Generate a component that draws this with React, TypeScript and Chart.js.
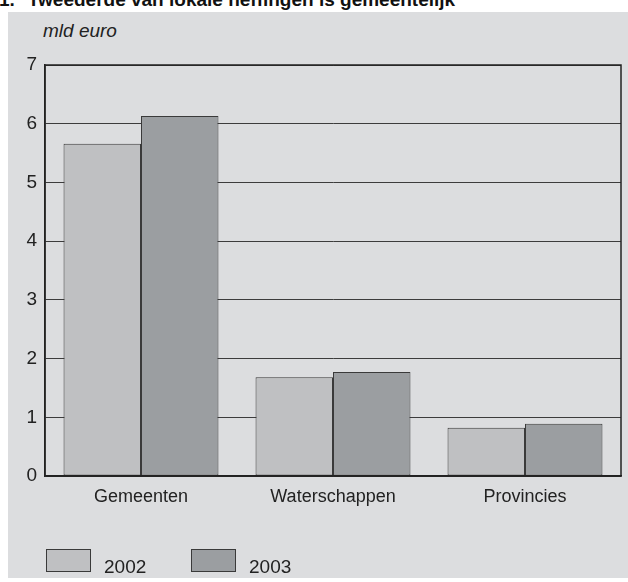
import React, { useEffect, useRef } from "react";
import { Chart, registerables } from "chart.js";

Chart.register(...registerables);

const categories = ["Gemeenten", "Waterschappen", "Provincies"];
const values2002 = [5.66, 1.68, 0.82];
const values2003 = [6.13, 1.77, 0.89];
const seriesLabels = ["2002", "2003"];
const yMin = 0;
const yMax = 7;
const yStep = 1;

const FONT = 'Arial, "Liberation Sans", Helvetica, sans-serif';
const PANEL = "#dcdddf";
const COLOR_2002 = "#bfc0c2";
const COLOR_2003 = "#9b9ea1";
const BAR_BORDER = "#3a3a3a";

const framePlugin = {
  id: "frame",
  afterDraw(chart: any) {
    const { ctx, chartArea } = chart;
    ctx.save();
    ctx.strokeStyle = "#222";
    ctx.lineWidth = 1.5;
    ctx.strokeRect(chartArea.left, chartArea.top, chartArea.right - chartArea.left, chartArea.bottom - chartArea.top);
    ctx.restore();
  },
};

export default function App() {
  const ref = useRef<HTMLCanvasElement | null>(null);

  useEffect(() => {
    if (!ref.current) return;
    const chart = new Chart(ref.current, {
      type: "bar",
      data: {
        labels: categories,
        datasets: [
          {
            label: seriesLabels[0],
            data: values2002,
            backgroundColor: COLOR_2002,
            borderColor: BAR_BORDER,
            borderWidth: 1,
            borderSkipped: false,
          },
          {
            label: seriesLabels[1],
            data: values2003,
            backgroundColor: COLOR_2003,
            borderColor: BAR_BORDER,
            borderWidth: 1,
            borderSkipped: false,
          },
        ],
      },
      options: {
        animation: false,
        responsive: false,
        maintainAspectRatio: false,
        devicePixelRatio: 1,
        datasets: { bar: { categoryPercentage: 0.807, barPercentage: 1 } },
        layout: { padding: { left: 0, top: 65, right: 7, bottom: 0 } },
        plugins: {
          legend: { display: false },
          title: { display: false },
          tooltip: { enabled: false },
        },
        scales: {
          x: {
            type: "category",
            grid: { display: false, drawTicks: false },
            border: { display: true, color: "#222", width: 1.5 },
            ticks: {
              padding: 10,
              color: "#222",
              font: { family: FONT, size: 18 },
              maxRotation: 0,
            },
            afterFit: (scale: any) => {
              scale.height = 106;
            },
          },
          y: {
            min: yMin,
            max: yMax,
            grid: { color: "#3c3c3c", lineWidth: 1, drawTicks: false },
            border: { display: true, color: "#222", width: 1.5 },
            ticks: {
              stepSize: yStep,
              padding: 8,
              color: "#222",
              font: { family: FONT, size: 19 },
            },
            afterFit: (scale: any) => {
              scale.width = 45;
            },
          },
        },
      },
      plugins: [framePlugin],
    });
    return () => chart.destroy();
  }, []);

  const legendItems = [
    { label: seriesLabels[0], color: COLOR_2002, left: 46 },
    { label: seriesLabels[1], color: COLOR_2003, left: 191 },
  ];

  return (
    <div style={{ position: "absolute", left: 0, top: 0, width: 628, height: 582, overflow: "hidden", background: "#fff", fontFamily: FONT }}>
      <div
        style={{
          position: "absolute",
          left: -1,
          top: -10,
          fontSize: 19,
          lineHeight: "19px",
          fontWeight: "bold",
          color: "#111",
          whiteSpace: "nowrap",
        }}
      >
        1.<span style={{ display: "inline-block", width: 13 }} />Tweederde van lokale heffingen is gemeentelijk
      </div>
      <div style={{ position: "absolute", left: 8, top: 12, width: 620, height: 566, background: PANEL }} />
      <div
        style={{
          position: "absolute",
          left: 43,
          top: 21,
          fontSize: 19,
          lineHeight: "19px",
          fontStyle: "italic",
          color: "#222",
          whiteSpace: "nowrap",
        }}
      >
        mld euro
      </div>
      <canvas ref={ref} width={628} height={582} style={{ position: "absolute", left: 0, top: 0, width: 628, height: 582 }} />
      {legendItems.map((it) => (
        <React.Fragment key={it.label}>
          <div
            style={{
              position: "absolute",
              left: it.left,
              top: 549,
              width: 45,
              height: 23,
              boxSizing: "border-box",
              border: "1px solid #3a3a3a",
              background: it.color,
            }}
          />
          <div
            style={{
              position: "absolute",
              left: it.left + 58,
              top: 557,
              fontSize: 19,
              lineHeight: "19px",
              color: "#222",
              whiteSpace: "nowrap",
            }}
          >
            {it.label}
          </div>
        </React.Fragment>
      ))}
    </div>
  );
}
